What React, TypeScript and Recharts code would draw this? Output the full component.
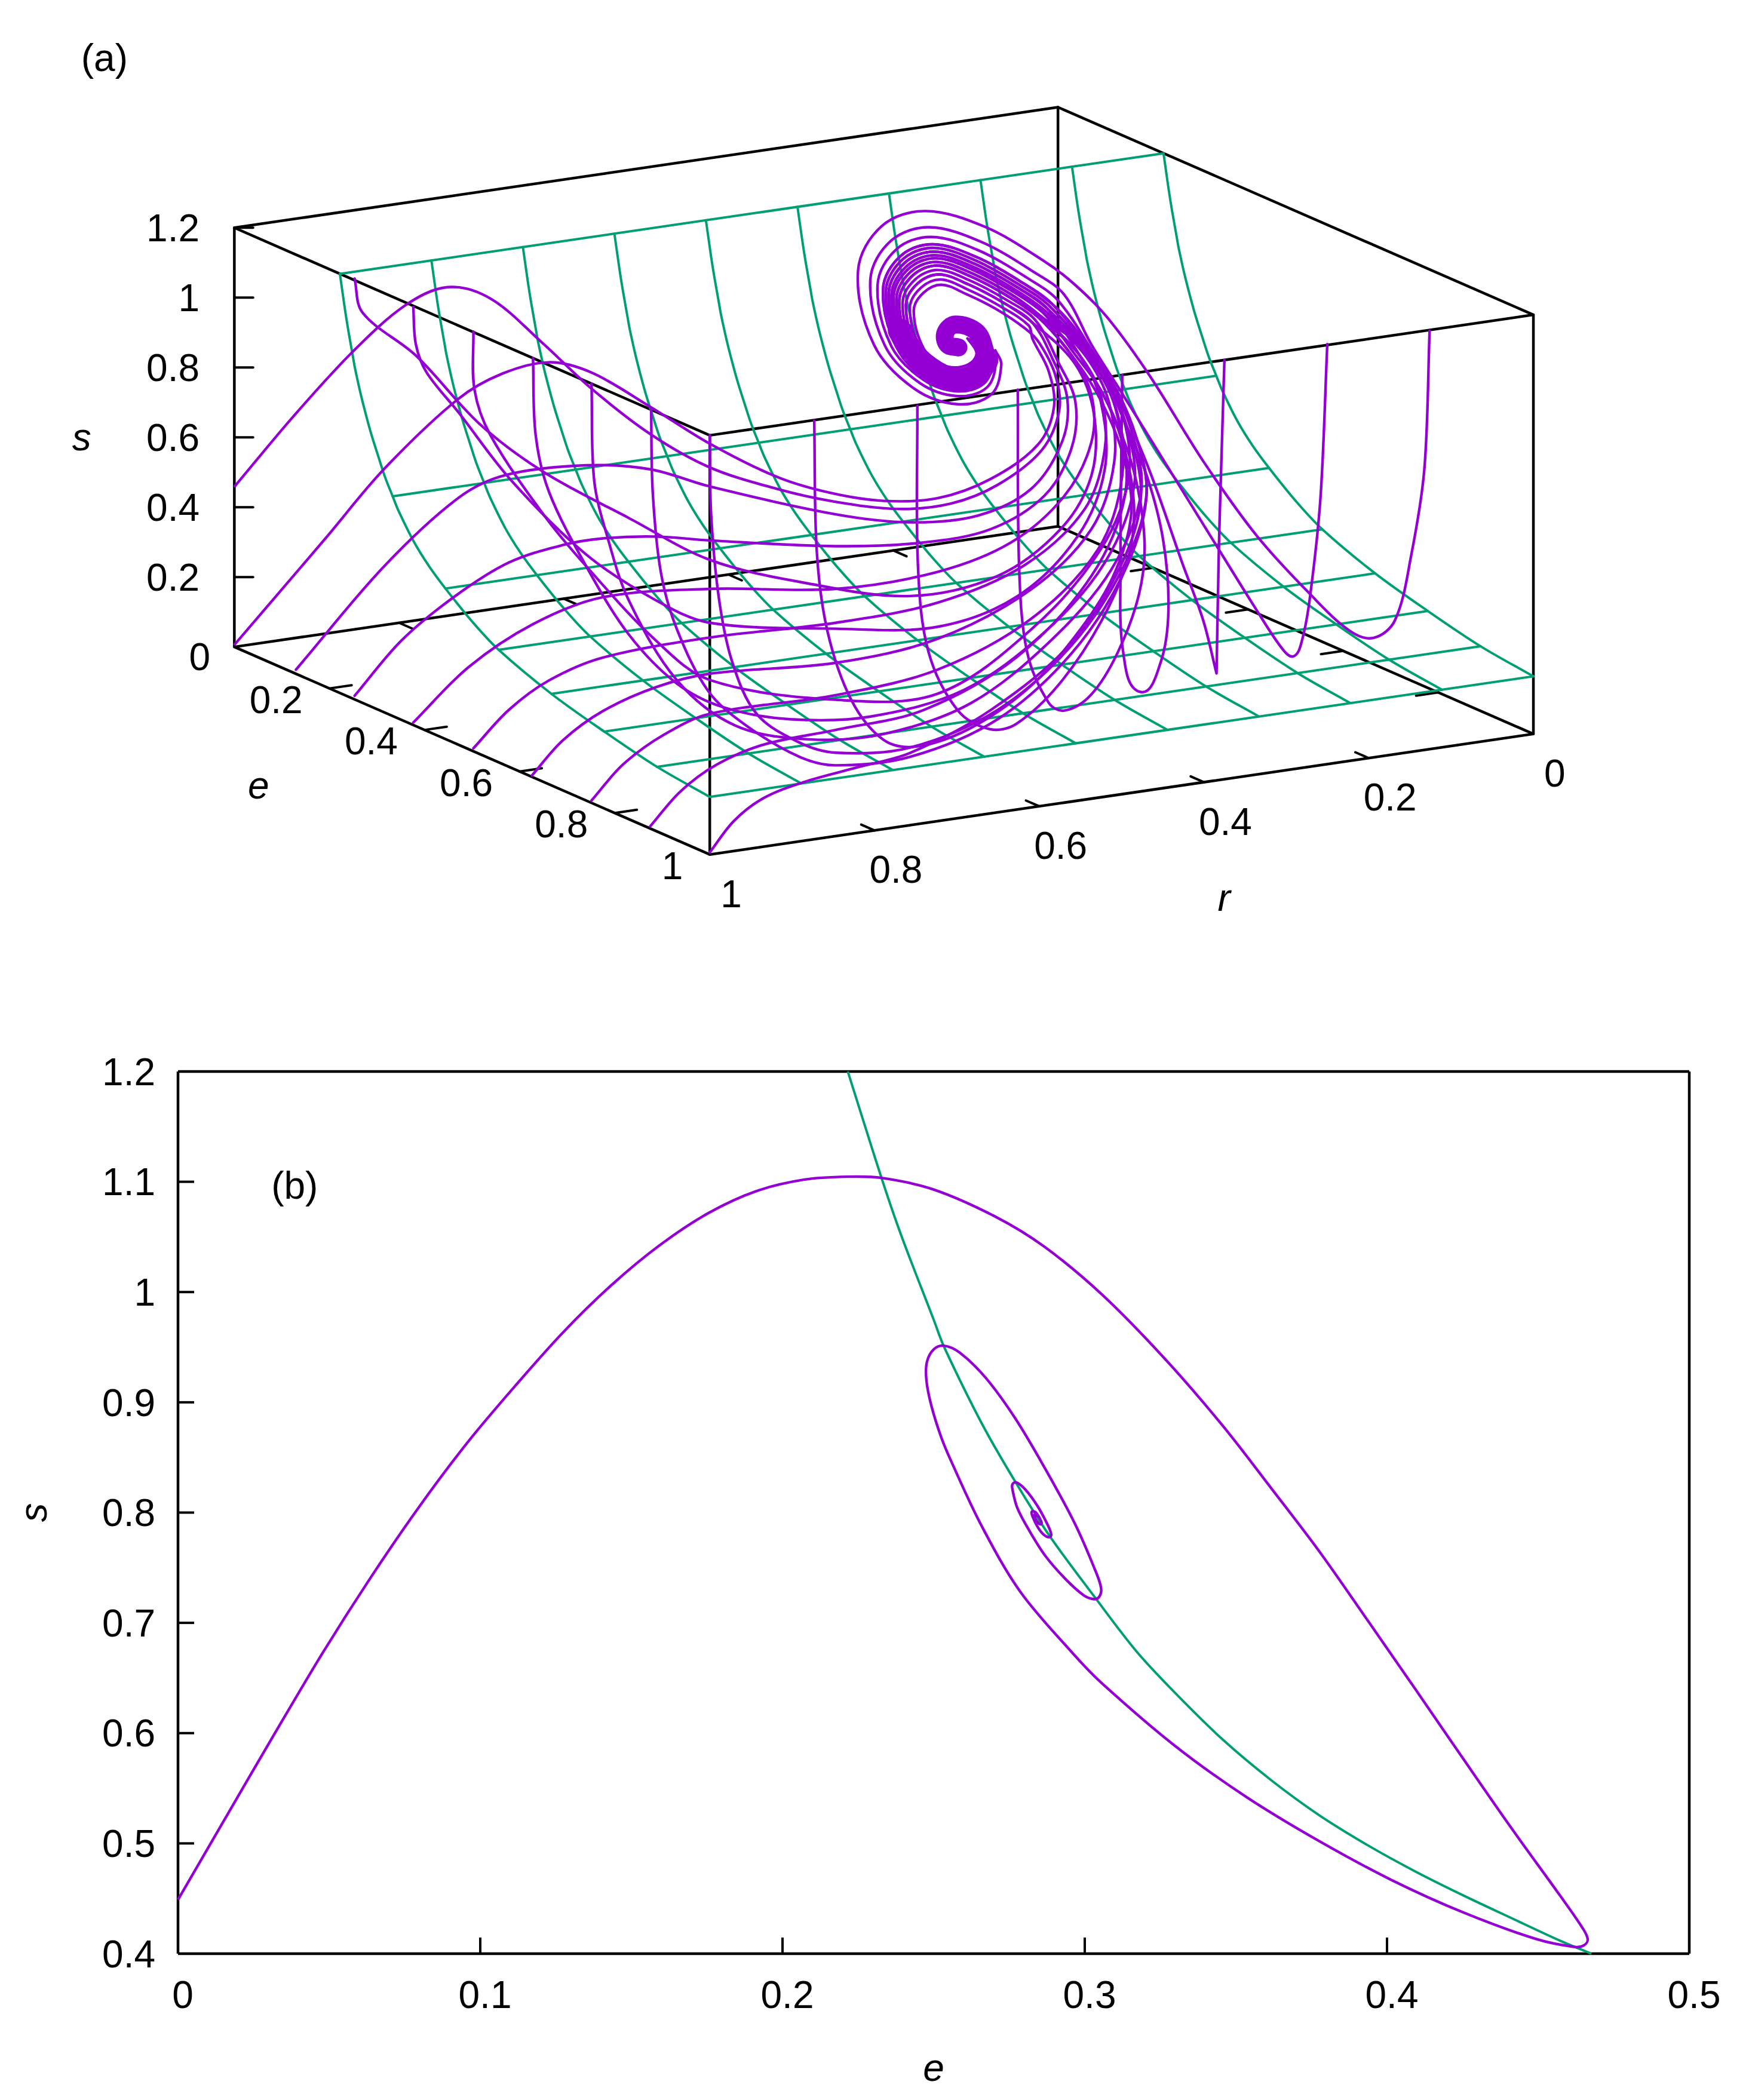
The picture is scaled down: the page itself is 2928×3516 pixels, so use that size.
import { Scatter, ScatterChart, XAxis, YAxis } from "recharts"

const PURPLE = "#9400D3"
const GREEN = "#009E73"
const FONT = "Liberation Sans"
const FONT_SIZE = 64

type Pt = [number, number]

// panel (b), values
const ticksE = [0, 0.1, 0.2, 0.3, 0.4, 0.5]
const ticksS = [0.4, 0.5, 0.6, 0.7, 0.8, 0.9, 1, 1.1, 1.2]
const nullclineB: Pt[] = [
  [0.2216, 1.2], [0.2328, 1.1031], [0.2392, 1.052], [0.25, 0.975], [0.2535, 0.95], [0.2659, 0.881],
  [0.2771, 0.8276], [0.2883, 0.7791], [0.3034, 0.723], [0.317, 0.6745], [0.3297, 0.637], [0.3457, 0.594],
  [0.3616, 0.5575], [0.3776, 0.5255], [0.3935, 0.4985], [0.4094, 0.4745], [0.4254, 0.4526], [0.4413, 0.4321],
  [0.4573, 0.4117], [0.4676, 0.4],
]
const orbitB: Pt[] = [
  [0, 0.449], [0.0159, 0.524], [0.0319, 0.5992], [0.0478, 0.6725], [0.0638, 0.7413], [0.0797, 0.8049],
  [0.0957, 0.8633], [0.1116, 0.915], [0.1276, 0.964], [0.1435, 1.0065], [0.1594, 1.0425], [0.1754, 1.0715],
  [0.1913, 1.0915], [0.2073, 1.102], [0.2216, 1.1046], [0.2328, 1.1035], [0.25, 1.093], [0.2707, 1.068],
  [0.2867, 1.041], [0.3058, 0.9975], [0.3265, 0.9395], [0.3457, 0.8786], [0.3616, 0.8224], [0.3776, 0.7648],
  [0.3935, 0.7026], [0.4094, 0.6398], [0.4254, 0.576], [0.4413, 0.5133], [0.4573, 0.4525], [0.4644, 0.4245],
  [0.4664, 0.4133], [0.4652, 0.4077], [0.4621, 0.4061], [0.4493, 0.4133], [0.4254, 0.4372], [0.4015, 0.4668],
  [0.3776, 0.502], [0.3536, 0.5418], [0.3297, 0.5888], [0.3058, 0.6449], [0.2962, 0.6719], [0.2787, 0.7281],
  [0.2659, 0.7878], [0.256, 0.8454], [0.2525, 0.8684], [0.2492, 0.8974], [0.2476, 0.9202], [0.2478, 0.9368], [0.2501, 0.9482],
  [0.2534, 0.9513], [0.2586, 0.9451], [0.2672, 0.9223], [0.2771, 0.885], [0.287, 0.8393], [0.2968, 0.7896],
  [0.3034, 0.7481], [0.3054, 0.7315], [0.3047, 0.7233], [0.3028, 0.7216], [0.2995, 0.7253], [0.2936, 0.7398],
  [0.287, 0.7606], [0.2817, 0.7834], [0.2777, 0.8041], [0.2761, 0.8207], [0.2761, 0.8259], [0.2774, 0.8273],
  [0.2804, 0.8207], [0.2843, 0.8062], [0.2876, 0.7896], [0.2889, 0.7803], [0.2883, 0.7776], [0.2863, 0.7803],
  [0.2843, 0.7875], [0.2827, 0.7968], [0.2825, 0.8009], [0.2837, 0.8003], [0.2853, 0.7937], [0.2856, 0.7896],
  [0.2843, 0.7917], [0.2833, 0.7979], [0.2845, 0.7965],
]

// panel (a), surface s(e) and axis ticks
const surfaceE = [0.222, 0.2328, 0.2392, 0.25, 0.2535, 0.2659, 0.2771, 0.2883, 0.3034, 0.317, 0.333, 0.3457, 0.3776, 0.4094, 0.444, 0.5, 0.556, 0.667, 0.778, 0.889, 1]
const surfaceS = [1.2, 1.1031, 1.052, 0.975, 0.95, 0.881, 0.8276, 0.7791, 0.723, 0.6745, 0.629, 0.594, 0.5255, 0.4745, 0.431, 0.37, 0.322, 0.262, 0.22, 0.185, 0.165]
const gridR = [0, 0.1111, 0.2222, 0.3333, 0.4444, 0.5556, 0.6667, 0.7778, 0.8889, 1]
const gridE = [0.222, 0.333, 0.444, 0.556, 0.667, 0.778, 0.889, 1]
const gridS = [1.2, 0.629, 0.431, 0.322, 0.262, 0.22, 0.185, 0.165]
const ticksSa = [0.2, 0.4, 0.6, 0.8, 1, 1.2]
const ticksEa = [0.2, 0.4, 0.6, 0.8]
const ticksRa = [0.2, 0.4, 0.6, 0.8]
const labelsSa = ["0", "0.2", "0.4", "0.6", "0.8", "1", "1.2"]
const labelsEa = ["0.2", "0.4", "0.6", "0.8", "1"]
const labelsRa = ["0", "0.2", "0.4", "0.6", "0.8", "1"]

// trajectories of panel (a), in the projected plane of the picture
const arc0: Pt[] = [[802.7, 212.6], [780.4, 195.5], [735.8, 169.5], [691.2, 157.6], [658.5, 168.7], [640.7, 202.2], [652.5, 257.2], [682.3, 289.9], [715, 301.8], [740.3, 294.4], [747.7, 272], [743.2, 261.6]]
const arc22: Pt[] = [[794.5, 219.8], [772.2, 203.2], [732.5, 180.5], [693.8, 169.7], [665.4, 179.7], [649.9, 208.7], [660.7, 257.9], [686.9, 286], [715, 295.7], [737, 289.2], [743.6, 270], [738.6, 259.6]]
const arc35: Pt[] = [[789.7, 224], [767.4, 207.7], [730.6, 186.9], [695.4, 176.9], [669.4, 186.1], [655.3, 212.6], [665.5, 258.3], [689.6, 283.6], [715, 292.2], [735, 286.1], [741.2, 268.9], [735.9, 258.5]]
const arc45: Pt[] = [[786, 227.3], [763.7, 211.2], [729.1, 191.9], [696.6, 182.4], [672.5, 191.1], [659.4, 215.6], [669.2, 258.6], [691.7, 281.8], [715, 289.4], [733.6, 283.7], [739.3, 268], [733.8, 257.6]]
const arc50: Pt[] = [[784.1, 228.9], [761.8, 213], [728.4, 194.4], [697.2, 185.1], [674.1, 193.6], [661.5, 217.1], [671.1, 258.7], [692.7, 281], [715, 288], [732.9, 282.5], [738.4, 267.6], [732.8, 257.2]]
const arc55: Pt[] = [[782.2, 230.6], [759.9, 214.7], [727.6, 196.9], [697.7, 187.9], [675.7, 196.1], [663.6, 218.5], [673, 258.9], [693.7, 280], [715, 286.7], [732.1, 281.3], [737.5, 267.1], [731.8, 256.7]]
const arc60: Pt[] = [[780.4, 232.2], [758.1, 216.4], [726.9, 199.4], [698.3, 190.6], [677.2, 198.6], [665.7, 220], [674.8, 259], [694.8, 279.2], [715, 285.3], [731.4, 280.1], [736.5, 266.7], [730.7, 256.3]]
const arc64: Pt[] = [[778.9, 233.5], [756.6, 217.8], [726.3, 201.4], [698.8, 192.8], [678.5, 200.6], [667.3, 221.2], [676.3, 259.1], [695.6, 278.4], [715, 284.2], [730.8, 279.2], [735.8, 266.3], [729.9, 255.9]]
const arc69: Pt[] = [[777, 236], [754.7, 219.6], [725.5, 203.9], [699.4, 195.6], [680, 203], [669.4, 222.7], [678.2, 259.3], [696.7, 277.6], [715, 282.8], [730, 278], [734.9, 265.9], [728.8, 255.5]]
const arc74: Pt[] = [[775.2, 236.8], [752.9, 221.3], [724.8, 206.4], [700, 198.3], [681.6, 205.6], [671.5, 224.2], [680, 259.4], [697.7, 276.7], [715, 281.5], [729.3, 276.8], [733.9, 265.4], [727.8, 255]]
const arc80: Pt[] = [[772.9, 238.8], [750.6, 223.4], [723.9, 209.3], [700.7, 201.6], [683.5, 208.5], [674, 226], [682.3, 259.6], [698.9, 275.6], [715, 279.8], [728.4, 275.4], [732.8, 264.9], [726.6, 254.5]]
const arc86: Pt[] = [[770.7, 240.7], [748.4, 225.5], [723, 212.3], [701.4, 204.9], [685.3, 211.5], [676.5, 227.7], [684.5, 259.8], [700.2, 274.5], [715, 278.2], [727.5, 273.9], [731.7, 264.3], [725.3, 253.9]]
const arc93: Pt[] = [[768.1, 243], [745.8, 228], [721.9, 215.8], [702.3, 208.7], [687.5, 215], [679.4, 229.8], [687.1, 260], [701.6, 273.3], [715, 276.2], [726.4, 272.3], [730.4, 263.7], [723.9, 253.3]]
const arc100: Pt[] = [[765.5, 245.3], [743.2, 230.4], [720.9, 219.3], [703.1, 212.6], [689.7, 218.5], [682.3, 231.9], [689.7, 260.2], [703.1, 272], [715, 274.3], [725.4, 270.6], [729.1, 263.1], [722.4, 252.7]]
const denseBand: Pt[] = [[671.9, 246.8], [682.3, 264.6], [698.6, 278], [715, 283.9], [728.4, 280.2], [736.5, 269.1]]
const denseCore: Pt[] = [[736.5, 264.6], [729.8, 248.3], [713.5, 242.3], [706, 248.3], [707.5, 257.2], [715.7, 259.4]]

const rise0: Pt[] = [[175.4, 363], [219, 311], [263, 263], [302.6, 228], [334.4, 214.4], [366.2, 222.9], [405, 256], [441.5, 290], [485.5, 324], [530, 349], [580, 365], [620, 374], [670, 380], [710, 376], [745, 362], [778, 336], [791, 306], [788, 280], [776, 256]]
const rise1: Pt[] = [[175.4, 481], [243, 402], [287, 350], [342, 298], [375, 279], [410, 270.5], [441.7, 278.2], [485.5, 303.7], [530, 331.3], [580, 356], [620, 368], [660, 374], [700, 372], [739, 358], [775, 332], [787, 304], [783, 277], [771, 253]]
const rise2: Pt[] = [[221, 500], [286.7, 423], [342.4, 371.7], [378, 354.6], [437.7, 347.4], [485.5, 350.4], [530, 363.2], [624, 384], [680, 390], [730, 385], [770, 365], [793, 330], [797, 298], [786, 268]]
const rise3: Pt[] = [[264.8, 519.5], [300, 478], [340, 445], [380, 420], [420, 407], [450, 402], [489.4, 400.6], [530, 403.5], [624, 407.8], [690, 405], [740, 395], [780, 370], [800, 335], [803, 300], [790, 270]]
const rise4: Pt[] = [[308.6, 539.5], [350, 498], [398, 466], [449.7, 446], [530, 439.7], [624, 439.7], [700, 427], [755, 405], [795, 370], [815, 330], [815, 295], [800, 265]]
const rise5: Pt[] = [[353.5, 558.7], [380, 530], [410, 508], [450, 491], [530, 476], [624, 465], [700, 450], [765, 422], [810, 380], [825, 335], [822, 295], [806, 265]]
const rise6: Pt[] = [[397.2, 579], [420, 553], [450, 531], [490, 513], [530, 503], [624, 494.9], [700, 477], [770, 440], [815, 395], [832, 345], [828, 300], [810, 265]]
const rise7: Pt[] = [[441.7, 597.7], [465, 571], [495, 549], [530, 533], [624, 519], [700, 500], [770, 462], [820, 410], [838, 355], [833, 305], [814, 268]]
const rise8: Pt[] = [[485.5, 617], [508, 591], [535, 571], [570, 556], [624, 545], [690, 530], [760, 490], [815, 430], [840, 370], [836, 315], [818, 272]]
const rise9: Pt[] = [[530, 636.4], [548, 613], [570, 596], [600, 584], [640, 573], [680, 562], [740, 530], [800, 480], [838, 420], [852, 370], [842, 320], [822, 275]]

const fallLeft1: Pt[] = [[264.8, 208], [270.8, 233.5], [310.5, 265.4], [358, 316.4], [406, 352.5], [470, 387], [530, 418], [600, 435], [680, 445], [745, 430], [792, 395], [815, 355], [817, 310], [803, 272]]
const fallLeft2: Pt[] = [[308.6, 229.3], [310.5, 257], [318.5, 278], [342.4, 307.9], [382, 359], [437.7, 414], [489.4, 448], [530, 465], [624, 469.4], [700, 468], [760, 445], [805, 400], [825, 350], [822, 300], [806, 265]]
const fallLeft3: Pt[] = [[353.5, 247.6], [354.3, 290.9], [366.2, 324.9], [406, 384.4], [437.7, 422.7], [489.4, 477.9], [530, 507.7], [624, 522.5], [700, 518], [770, 470], [822, 410], [843, 355], [837, 305], [818, 268]]
const fallLeft4: Pt[] = [[398, 267.5], [400, 325], [410, 367.4], [437.7, 422.7], [469.5, 473.7], [505, 510], [540, 528], [590, 537], [650, 535], [720, 515], [780, 472], [825, 420], [847, 362], [840, 315], [820, 272]]
const fallLeft5: Pt[] = [[441.7, 286.5], [443.7, 358.9], [453.7, 401.4], [469.5, 448.2], [505.3, 507.7], [549, 541.7], [604, 552], [660, 548], [725, 525], [785, 478], [830, 425], [852, 368], [845, 322], [825, 278]]
const fallLeft6: Pt[] = [[486.2, 305.8], [487.4, 367.4], [493.4, 426.9], [505.3, 469.4], [529, 516.2], [557, 541.6], [596.8, 565], [623.8, 571.4], [680, 565], [745, 537], [800, 488], [838, 430], [856, 372], [848, 325], [826, 278]]

const fallFront1: Pt[] = [[1067.5, 247], [1063.6, 350], [1053.6, 415.5], [1041.7, 463], [1025.8, 476.2], [1007.9, 471], [978, 443.3], [938.2, 399.7], [898.4, 344.2], [858.6, 280.7], [826.8, 237]]
const fallFront2: Pt[] = [[991.1, 256.9], [986, 371.9], [978, 447.2], [972, 479], [966, 490], [958, 485], [938, 455], [906, 403.6], [866.6, 340], [834.7, 288.6], [814.8, 257]]
const fallFront3: Pt[] = [[914.3, 268.8], [910.3, 403.6], [908.4, 502.8], [908.4, 502.8], [898.4, 463], [882.5, 419.5], [858.6, 352], [834.7, 296.6], [814.8, 260.9]]
const fallFront4: Pt[] = [[838, 280], [836.7, 423.5], [838.7, 486.9], [851.4, 516.6], [866.6, 494.8], [872.5, 455.2], [868.6, 403.6], [856.6, 356], [838.7, 312.4], [818.8, 268.8]]
const fallFront5: Pt[] = [[760, 291], [761, 423.5], [767, 487], [783, 524.6], [795, 530.5], [814.8, 518.6], [834.7, 487], [850.6, 443.3], [854.6, 403.6], [846.7, 352], [830.7, 308.5], [810.8, 272.8]]
const fallFront6: Pt[] = [[685, 303], [685.5, 423.5], [693.4, 487], [715.3, 530.5], [739.2, 544.4], [759, 540.4], [791, 510.7], [822.8, 463], [842.7, 415.5], [846.7, 375.9], [838.7, 332.2], [822.8, 292.6], [802.9, 264.9]]
const fallFront7: Pt[] = [[608, 314], [609.9, 411.6], [617.8, 471], [635.7, 522.6], [659.6, 552.3], [683.5, 557.5], [723.3, 544.4], [767, 514.6], [802.9, 475], [830.7, 431.4], [844.7, 383.8], [838.7, 340.2], [822.8, 300.5], [802.9, 268.8]]
const fallFront8: Pt[] = [[530, 325], [531, 384], [537, 448], [547, 495], [565, 533], [596, 554], [624, 562], [680, 558], [745, 530], [800, 482], [838, 425], [856, 370], [847, 322], [826, 278], [801, 243]]

// each incoming trajectory continues on one arc of the spiral
const trajectories: Pt[][] = [
  [...rise0, ...arc100], [...rise1, ...arc93], [...rise2, ...arc86], [...rise3, ...arc80],
  [...rise4, ...arc74], [...rise5, ...arc69], [...rise6, ...arc64], [...rise7, ...arc60],
  [...rise8, ...arc55], [...rise9, ...arc50],
  [...fallLeft1, ...arc86], [...fallLeft2, ...arc74], [...fallLeft3, ...arc69],
  [...fallLeft4, ...arc60], [...fallLeft5, ...arc55], [...fallLeft6, ...arc50],
  [...fallFront1, ...arc0], [...fallFront2, ...arc22], [...fallFront3, ...arc35], [...fallFront4, ...arc45],
  [...fallFront5, ...arc55], [...fallFront6, ...arc64], [...fallFront7, ...arc74], [...fallFront8, ...arc45],
]

// gnuplot style orthographic view of the box
const project = (r: number, e: number, s: number) => ({
  x: 175 + 355 * e + 615 * (1 - r),
  y: 483 + 155 * e - 90 * (1 - r) - 260.8 * s,
})
const rows = (pts: Pt[]) => pts.map(([x, y]) => ({ x, y }))

const boxEdges = [
  [project(1, 0, 0), project(1, 1, 0), project(0, 1, 0), project(0, 0, 0), project(1, 0, 0)],
  [project(1, 0, 1.2), project(1, 1, 1.2), project(0, 1, 1.2), project(0, 0, 1.2), project(1, 0, 1.2)],
  [project(1, 0, 0), project(1, 0, 1.2)],
  [project(1, 1, 0), project(1, 1, 1.2)],
  [project(0, 1, 0), project(0, 1, 1.2)],
  [project(0, 0, 0), project(0, 0, 1.2)],
]
const boxTicks = [
  ...ticksEa.map((e) => [project(1, e, 0), project(0.973, e, 0)]),
  ...ticksEa.map((e) => [project(0, e, 0), project(0.027, e, 0)]),
  ...ticksRa.map((r) => [project(r, 1, 0), project(r, 0.972, 0)]),
  ...ticksRa.map((r) => [project(r, 0, 0), project(r, 0.028, 0)]),
  ...ticksSa.map((s) => {
    const p = project(1, 0, s)
    return [p, { x: p.x + 14, y: p.y }]
  }),
]
const surfaceLines = [
  ...gridR.map((r) => surfaceE.map((e, i) => project(r, e, surfaceS[i]))),
  ...gridE.map((e, i) => [project(0, e, gridS[i]), project(1, e, gridS[i])]),
]

const textsA = [
  ...labelsSa.map((text, i) => {
    const p = project(1, 0, i * 0.2)
    return { x: p.x - 26 + (i === 0 ? 8 : 0), y: p.y + (i === 0 ? 7 : 0), text, anchor: "end" }
  }),
  ...labelsEa.map((text, i) => {
    const p = project(1, (i + 1) * 0.2, 0)
    return { x: p.x - 20, y: p.y + 8, text, anchor: "end" }
  }),
  ...labelsRa.map((text, i) => {
    const p = project(i * 0.2, 1, 0)
    return { x: p.x + 16, y: p.y + 29, text, anchor: "middle" }
  }),
  { x: 78, y: 43, text: "(a)", anchor: "middle" },
  { x: 61, y: 326, text: "s", anchor: "middle", italic: true },
  { x: 193, y: 586, text: "e", anchor: "middle", italic: true },
  { x: 914, y: 670, text: "r", anchor: "middle", italic: true },
]

// cubic segments through the read points, handles scaled to the segment length
const smooth = (ctx: any) => {
  let pts: number[][] = []
  const dir = (a: number[], b: number[]) => {
    const dx = b[0] - a[0]
    const dy = b[1] - a[1]
    const len = Math.hypot(dx, dy) || 1
    return [dx / len, dy / len]
  }
  return {
    areaStart() {},
    areaEnd() {},
    lineStart() {
      pts = []
    },
    point(x: number, y: number) {
      pts.push([x, y])
    },
    lineEnd() {
      const n = pts.length
      if (!n) return
      ctx.moveTo(pts[0][0], pts[0][1])
      for (let i = 0; i < n - 1; i++) {
        const p0 = pts[Math.max(i - 1, 0)]
        const p1 = pts[i]
        const p2 = pts[i + 1]
        const p3 = pts[Math.min(i + 2, n - 1)]
        const t1 = dir(p0, p2)
        const t2 = dir(p1, p3)
        const h = Math.hypot(p2[0] - p1[0], p2[1] - p1[1]) / 3
        ctx.bezierCurveTo(p1[0] + t1[0] * h, p1[1] + t1[1] * h, p2[0] - t2[0] * h, p2[1] - t2[1] * h, p2[0], p2[1])
      }
    },
  }
}

const noDot = () => <g />
const textDot = (props: any) => {
  const d = props.payload
  return (
    <text
      x={props.cx}
      y={props.cy}
      dy="0.36em"
      textAnchor={d.anchor}
      fontFamily={FONT}
      fontSize={FONT_SIZE}
      fontStyle={d.italic ? "italic" : "normal"}
      fill="#000"
    >
      {d.text}
    </text>
  )
}

const series = (data: any[], key: string, stroke: string, width: number, curved: boolean) => (
  <Scatter
    key={key}
    data={data}
    isAnimationActive={false}
    shape={noDot}
    line={{ stroke, strokeWidth: width, strokeLinecap: "round", strokeLinejoin: "round", fill: "none" }}
    lineType="joint"
    lineJointType={(curved ? smooth : "linear") as any}
  />
)

const PanelA = () => (
  <ScatterChart width={2928} height={1700} margin={{ top: 0, right: 0, bottom: 0, left: 0 }}>
    <XAxis type="number" dataKey="x" domain={[0, 1306]} hide />
    <YAxis type="number" dataKey="y" domain={[0, 758.1]} reversed hide />
    {boxEdges.map((d, i) => series(d, `box${i}`, "#000", 4.5, false))}
    {boxTicks.map((d, i) => series(d, `tick${i}`, "#000", 4, false))}
    {surfaceLines.map((d, i) => series(d, `grid${i}`, GREEN, 4, d.length > 2))}
    {trajectories.map((d, i) => series(rows(d), `traj${i}`, PURPLE, 4.4, true))}
    {series(rows(denseBand), "band", PURPLE, 40, true)}
    {series(rows(denseCore), "core", PURPLE, 30, true)}
    <Scatter data={textsA} isAnimationActive={false} shape={textDot} />
  </ScatterChart>
)

const tickStyle = { fontFamily: FONT, fontSize: FONT_SIZE, fill: "#000" }
const axisLine = { stroke: "#000", strokeWidth: 4.5 }
const tickLine = { stroke: "#000", strokeWidth: 4 }

const PanelB = () => (
  <ScatterChart width={2928} height={1816} margin={{ top: 84, right: 90, bottom: 145, left: 198 }}>
    <XAxis
      xAxisId="bottom"
      type="number"
      dataKey="x"
      domain={[0, 0.5]}
      ticks={ticksE}
      height={100}
      tick={{ ...tickStyle, dx: 8 }}
      tickSize={-27}
      tickMargin={73}
      axisLine={axisLine}
      tickLine={tickLine}
      interval={0}
      label={{ value: "e", position: "bottom", offset: 68, style: { ...tickStyle, fontStyle: "italic" } }}
    />
    <XAxis
      xAxisId="top"
      orientation="top"
      type="number"
      dataKey="x"
      domain={[0, 0.5]}
      ticks={ticksE}
      height={10}
      tick={false}
      tickSize={-27}
      axisLine={axisLine}
      tickLine={tickLine}
      interval={0}
    />
    <YAxis
      yAxisId="left"
      type="number"
      dataKey="y"
      domain={[0.4, 1.2]}
      ticks={ticksS}
      width={100}
      tick={tickStyle}
      tickSize={-27}
      tickMargin={65}
      axisLine={axisLine}
      tickLine={tickLine}
      interval={0}
      label={{ value: "s", angle: -90, position: "left", offset: 143, textAnchor: "middle", style: { ...tickStyle, fontStyle: "italic" } }}
    />
    <YAxis
      yAxisId="right"
      orientation="right"
      type="number"
      dataKey="y"
      domain={[0.4, 1.2]}
      ticks={ticksS}
      width={10}
      tick={false}
      tickSize={-27}
      axisLine={axisLine}
      tickLine={tickLine}
      interval={0}
    />
    <Scatter
      xAxisId="bottom"
      yAxisId="left"
      data={rows(nullclineB)}
      isAnimationActive={false}
      shape={noDot}
      line={{ stroke: GREEN, strokeWidth: 4, fill: "none" }}
      lineType="joint"
      lineJointType={smooth as any}
    />
    <Scatter
      xAxisId="bottom"
      yAxisId="left"
      data={rows(orbitB)}
      isAnimationActive={false}
      shape={noDot}
      line={{ stroke: PURPLE, strokeWidth: 4.4, fill: "none" }}
      lineType="joint"
      lineJointType={smooth as any}
    />
    <Scatter
      xAxisId="bottom"
      yAxisId="left"
      data={[{ x: 0.0386, y: 1.097, text: "(b)", anchor: "middle" }]}
      isAnimationActive={false}
      shape={textDot}
    />
  </ScatterChart>
)

export default function App() {
  return (
    <div style={{ position: "absolute", left: 0, top: 0, width: 2928, height: 3516, background: "#fff" }}>
      <div style={{ position: "absolute", left: 0, top: 0 }}>
        <PanelA />
      </div>
      <div style={{ position: "absolute", left: 0, top: 1700 }}>
        <PanelB />
      </div>
    </div>
  )
}
